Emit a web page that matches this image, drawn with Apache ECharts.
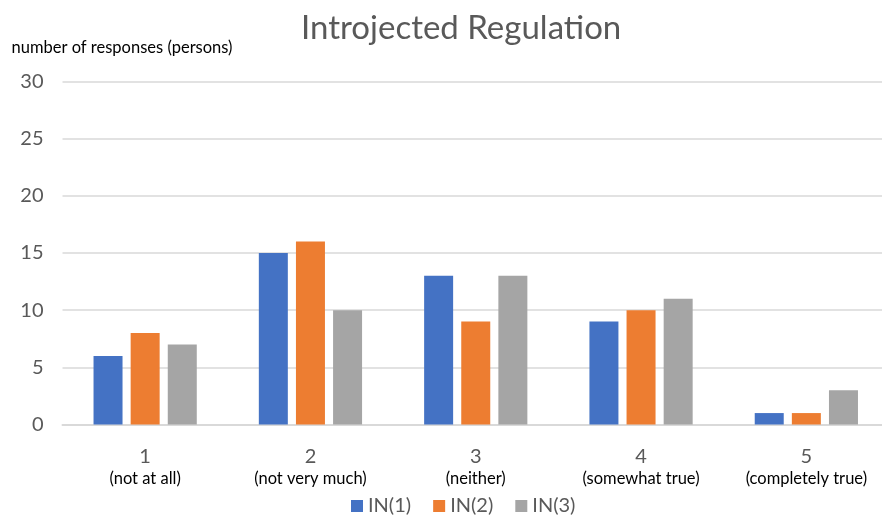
<!DOCTYPE html>
<html>
<head>
<meta charset="utf-8">
<script src="https://cdn.jsdelivr.net/npm/echarts@6/dist/echarts.min.js"></script>
<style>
  html, body { margin: 0; padding: 0; background: #fff; }
  #chart { width: 882px; height: 517px; }
</style>
</head>
<body>
<div id="chart"></div>
<script>
// Likert scale points and their descriptions
const scalePoints = ['1', '2', '3', '4', '5'];
const scaleNotes = ['(not at all)', '(not very much)', '(neither)', '(somewhat true)', '(completely true)'];

// Number of responses per item
const in1 = [6, 15, 13, 9, 1];
const in2 = [8, 16, 9, 10, 1];
const in3 = [7, 10, 13, 11, 3];

const seriesNames = ['IN(1)', 'IN(2)', 'IN(3)'];
const yTicks = [0, 5, 10, 15, 20, 25, 30];

const FONT = 'Lato, "Open Sans", sans-serif';
const categories = scalePoints.map((p, i) => p + '\n' + scaleNotes[i]);

const chart = echarts.init(document.getElementById('chart'), null, { renderer: 'canvas' });

chart.setOption({
  animation: false,
  backgroundColor: '#ffffff',
  textStyle: { fontFamily: FONT },
  title: {
    text: 'Introjected Regulation',
    left: 296,
    top: 7,
    textStyle: { fontFamily: FONT, fontSize: 33, fontWeight: 'normal', color: '#595959' }
  },
  legend: {
    top: 496,
    left: 351,
    padding: 0,
    itemWidth: 12,
    itemHeight: 12,
    itemGap: 22,
    icon: 'rect',
    textStyle: { fontFamily: FONT, fontSize: 20, lineHeight: 20, color: '#595959', padding: [0, 0, 0, 0] },
    data: seriesNames
  },
  // the plot area runs slightly past the right edge of the canvas
  grid: { left: 62.5, right: -7, top: 81.5, bottom: 92.5, outerBoundsMode: 'none' },
  xAxis: {
    type: 'category',
    data: categories,
    axisLine: { lineStyle: { color: '#d9d9d9', width: 2 } },
    axisTick: { show: false },
    axisLabel: {
      margin: 21,
      formatter: (v) => {
        const parts = v.split('\n');
        return '{n|' + parts[0] + '}\n{d|' + parts[1] + '}';
      },
      rich: {
        n: { fontFamily: FONT, fontSize: 20, color: '#595959', lineHeight: 22 },
        d: { fontFamily: FONT, fontSize: 16.5, color: '#000000', lineHeight: 22 }
      }
    }
  },
  yAxis: {
    type: 'value',
    min: yTicks[0],
    max: yTicks[yTicks.length - 1],
    interval: 5,
    name: 'number of responses (persons)',
    nameLocation: 'end',
    nameGap: 25,
    nameTextStyle: { fontFamily: FONT, fontSize: 16.5, color: '#000000', align: 'left', padding: [0, 0, 0, -51] },
    axisLine: { show: false },
    axisTick: { show: false },
    axisLabel: { fontFamily: FONT, fontSize: 20, color: '#595959', margin: 19 },
    splitLine: { lineStyle: { color: '#d9d9d9', width: 1.5 } }
  },
  series: [
    { name: seriesNames[0], type: 'bar', data: in1, barWidth: 29, barGap: '28%', itemStyle: { color: '#4472C4' } },
    { name: seriesNames[1], type: 'bar', data: in2, barWidth: 29, barGap: '28%', itemStyle: { color: '#ED7D31' } },
    { name: seriesNames[2], type: 'bar', data: in3, barWidth: 29, barGap: '28%', itemStyle: { color: '#A5A5A5' } }
  ]
});
</script>
</body>
</html>
